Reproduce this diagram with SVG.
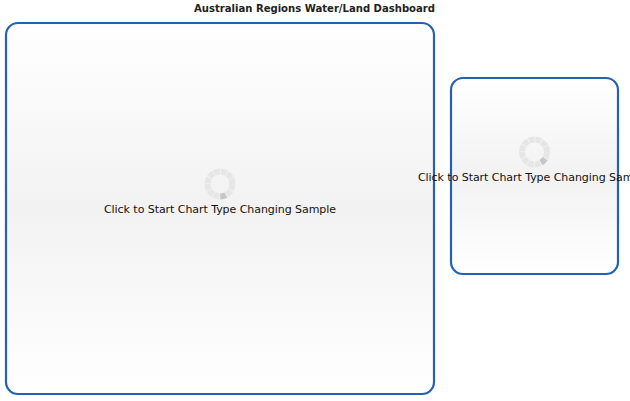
<svg xmlns="http://www.w3.org/2000/svg" width="630" height="401" viewBox="0 0 630 401">
<style>
.panel{fill:url(#g);stroke:#2362ae;stroke-width:2.2}
.t{font-family:"DejaVu Sans",Verdana,sans-serif;font-size:11px;fill:#111}
.title{font-family:"DejaVu Sans","Liberation Sans",sans-serif;font-size:10.5px;font-weight:bold;fill:#222}
.seg{stroke:#e6e6e6;stroke-width:6;fill:none;stroke-dasharray:5.8 0.75}
.on{stroke:#c6c6c6;stroke-width:6;fill:none;stroke-dasharray:5.8 72.74}
</style>
<defs>
<linearGradient id="g" x1="0" y1="0" x2="0" y2="1">
<stop offset="0" stop-color="#fff"/><stop offset="0.5" stop-color="#f2f2f2"/><stop offset="1" stop-color="#fff"/>
</linearGradient>
</defs>
<rect width="630" height="401" fill="#fff"/>
<text class="title" x="194" y="12" textLength="241" lengthAdjust="spacingAndGlyphs">Australian Regions Water/Land Dashboard</text>
<g id="panel-main">
<rect class="panel" x="6" y="23" width="428" height="371" rx="12" ry="12"/>
<circle class="seg" cx="220" cy="184" r="12.5" transform="rotate(2 220 184)"/>
<circle class="on" cx="220" cy="184" r="12.5" transform="rotate(62 220 184)"/>
<text class="t" x="104" y="213" textLength="232" lengthAdjust="spacing">Click to Start Chart Type Changing Sample</text>
</g>
<g id="panel-side">
<rect class="panel" x="451" y="78" width="167" height="196" rx="12" ry="12"/>
<circle class="seg" cx="534.5" cy="152" r="12.5" transform="rotate(2 534.5 152)"/>
<circle class="on" cx="534.5" cy="152" r="12.5" transform="rotate(32 534.5 152)"/>
<text class="t" x="418" y="181" textLength="232" lengthAdjust="spacing">Click to Start Chart Type Changing Sample</text>
</g>
</svg>
